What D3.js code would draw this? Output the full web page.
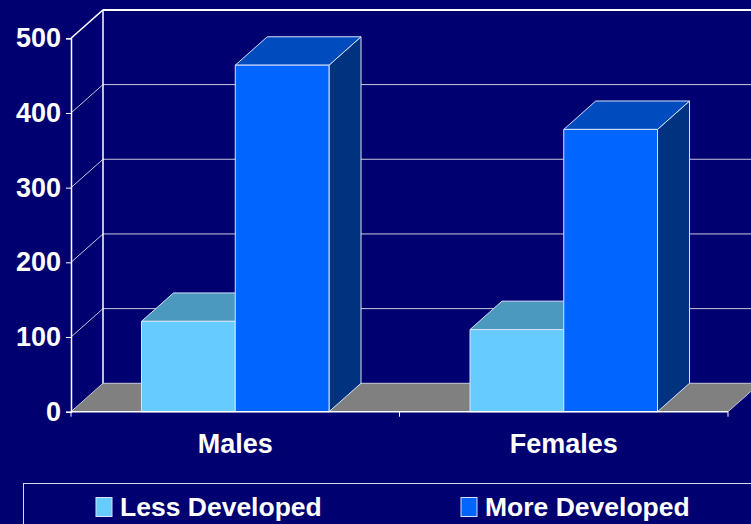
<!DOCTYPE html>
<html>
<head>
<meta charset="utf-8">
<script src="https://cdn.jsdelivr.net/npm/d3@7"></script>
<style>
  html, body { margin: 0; padding: 0; background: #000070; overflow: hidden; }
  svg { display: block; }
  text { font-family: "Liberation Sans", Arial, sans-serif; font-weight: bold; fill: #ffffff; }
</style>
</head>
<body>
<svg id="chart" width="751" height="524"></svg>
<script>
// Chart data
const categories = ["Males", "Females"];
const seriesNames = ["Less Developed", "More Developed"];
const lessDeveloped = [121, 110];
const moreDeveloped = [464, 378];
const yTicks = [0, 100, 200, 300, 400, 500];

const seriesValues = [lessDeveloped, moreDeveloped];
const frontColors = ["#66ccff", "#0066ff"];
const topColors = ["#4c99bf", "#004cbf"];
const sideColors = ["#337fa6", "#00337f"];

const W = 751, H = 524;
const svg = d3.select("#chart");

// Front plane and depth offset of the 3-D box
const plotLeft = 71, plotRight = 728, plotBase = 411.7, plotTop = 38.3;
const DX = 32, DY = -28.4;

const y = d3.scaleLinear().domain([0, 500]).range([plotBase, plotTop]);
const x0 = d3.scaleBand().domain(categories).range([plotLeft, plotRight]);
const x1 = d3.scaleBand().domain(seriesNames).range([70.5, x0.bandwidth() - 70.5]);

const gridColor = "#c8c8d8";
const edgeColor = "#d8e0ff";

// Floor
const floorPts = [[plotLeft, plotBase], [plotLeft + DX, plotBase + DY], [plotRight + DX, plotBase + DY], [plotRight, plotBase]];
svg.append("polygon")
  .attr("points", floorPts.map(p => p.join(",")).join(" "))
  .attr("fill", "#808080");

// Back wall gridlines and side-wall diagonals
const grid = svg.append("g");
yTicks.forEach(t => {
  const yf = y(t), yb = y(t) + DY;
  grid.append("line")
    .attr("x1", plotLeft + DX).attr("x2", plotRight + DX)
    .attr("y1", yb).attr("y2", yb)
    .attr("stroke", t === 500 ? "#ffffff" : gridColor)
    .attr("stroke-width", t === 500 ? 2 : 1);
  grid.append("line")
    .attr("x1", plotLeft).attr("y1", yf)
    .attr("x2", plotLeft + DX).attr("y2", yb)
    .attr("stroke", t === 500 ? "#ffffff" : gridColor)
    .attr("stroke-width", t === 500 ? 1.5 : 1);
});
grid.append("line")
  .attr("x1", plotLeft + DX).attr("x2", plotLeft + DX)
  .attr("y1", y(0) + DY).attr("y2", y(500) + DY)
  .attr("stroke", "#ffffff").attr("stroke-width", 1.5);

// Floor right edge
svg.append("line")
  .attr("x1", plotRight).attr("y1", plotBase)
  .attr("x2", plotRight + DX).attr("y2", plotBase + DY)
  .attr("stroke", gridColor);

// 3-D bars
const bars = svg.append("g");
categories.forEach((cat, ci) => {
  seriesNames.forEach((s, si) => {
    const v = seriesValues[si][ci];
    const x = x0(cat) + x1(s), w = x1.bandwidth();
    const yt = y(v);
    const g = bars.append("g")
      .attr("stroke", edgeColor).attr("stroke-width", 1).attr("stroke-linejoin", "round");
    // side face
    g.append("polygon")
      .attr("points", [[x + w, plotBase], [x + w + DX, plotBase + DY], [x + w + DX, yt + DY], [x + w, yt]].map(p => p.join(",")).join(" "))
      .attr("fill", sideColors[si]);
    // top face
    g.append("polygon")
      .attr("points", [[x, yt], [x + DX, yt + DY], [x + w + DX, yt + DY], [x + w, yt]].map(p => p.join(",")).join(" "))
      .attr("fill", topColors[si]);
    // front face
    g.append("rect")
      .attr("x", x).attr("y", yt)
      .attr("width", w).attr("height", plotBase - yt)
      .attr("fill", frontColors[si]);
  });
});

// Value axis
const yAxis = svg.append("g")
  .attr("transform", `translate(${plotLeft},0)`)
  .call(d3.axisLeft(y).tickValues(yTicks).tickSize(5).tickPadding(5));
yAxis.select(".domain").attr("stroke", "#ffffff").attr("stroke-width", 1.5);
yAxis.selectAll(".tick line").attr("stroke", "#ffffff");
yAxis.selectAll(".tick text")
  .attr("fill", "#ffffff")
  .style("font-size", "27px")
  .style("font-family", "'Liberation Sans', Arial, sans-serif")
  .style("font-weight", "bold");

// Category axis
const xg = svg.append("g");
xg.append("line")
  .attr("x1", plotLeft).attr("x2", plotRight)
  .attr("y1", plotBase).attr("y2", plotBase)
  .attr("stroke", "#ffffff").attr("stroke-width", 1.5);
const edges = categories.map(c => x0(c)).concat([x0(categories[categories.length - 1]) + x0.bandwidth()]);
edges.forEach(ex => {
  xg.append("line")
    .attr("x1", ex).attr("x2", ex)
    .attr("y1", plotBase).attr("y2", plotBase + 5)
    .attr("stroke", "#ffffff");
});
categories.forEach(c => {
  xg.append("text")
    .attr("x", x0(c) + x0.bandwidth() / 2)
    .attr("y", 453)
    .attr("text-anchor", "middle")
    .style("font-size", "27px")
    .text(c);
});

// Legend
const lg = svg.append("g");
lg.append("rect")
  .attr("x", 23.5).attr("y", 483.5)
  .attr("width", 800).attr("height", 100)
  .attr("fill", "none").attr("stroke", "#d8d8e8").attr("stroke-width", 1);
const legendX = [96, 461];
seriesNames.forEach((s, i) => {
  lg.append("rect")
    .attr("x", legendX[i]).attr("y", 497.5)
    .attr("width", 16).attr("height", 19)
    .attr("fill", frontColors[i])
    .attr("stroke", edgeColor);
  lg.append("text")
    .attr("x", legendX[i] + 24)
    .attr("y", 516)
    .style("font-size", "26.5px")
    .text(s);
});
</script>
</body>
</html>
